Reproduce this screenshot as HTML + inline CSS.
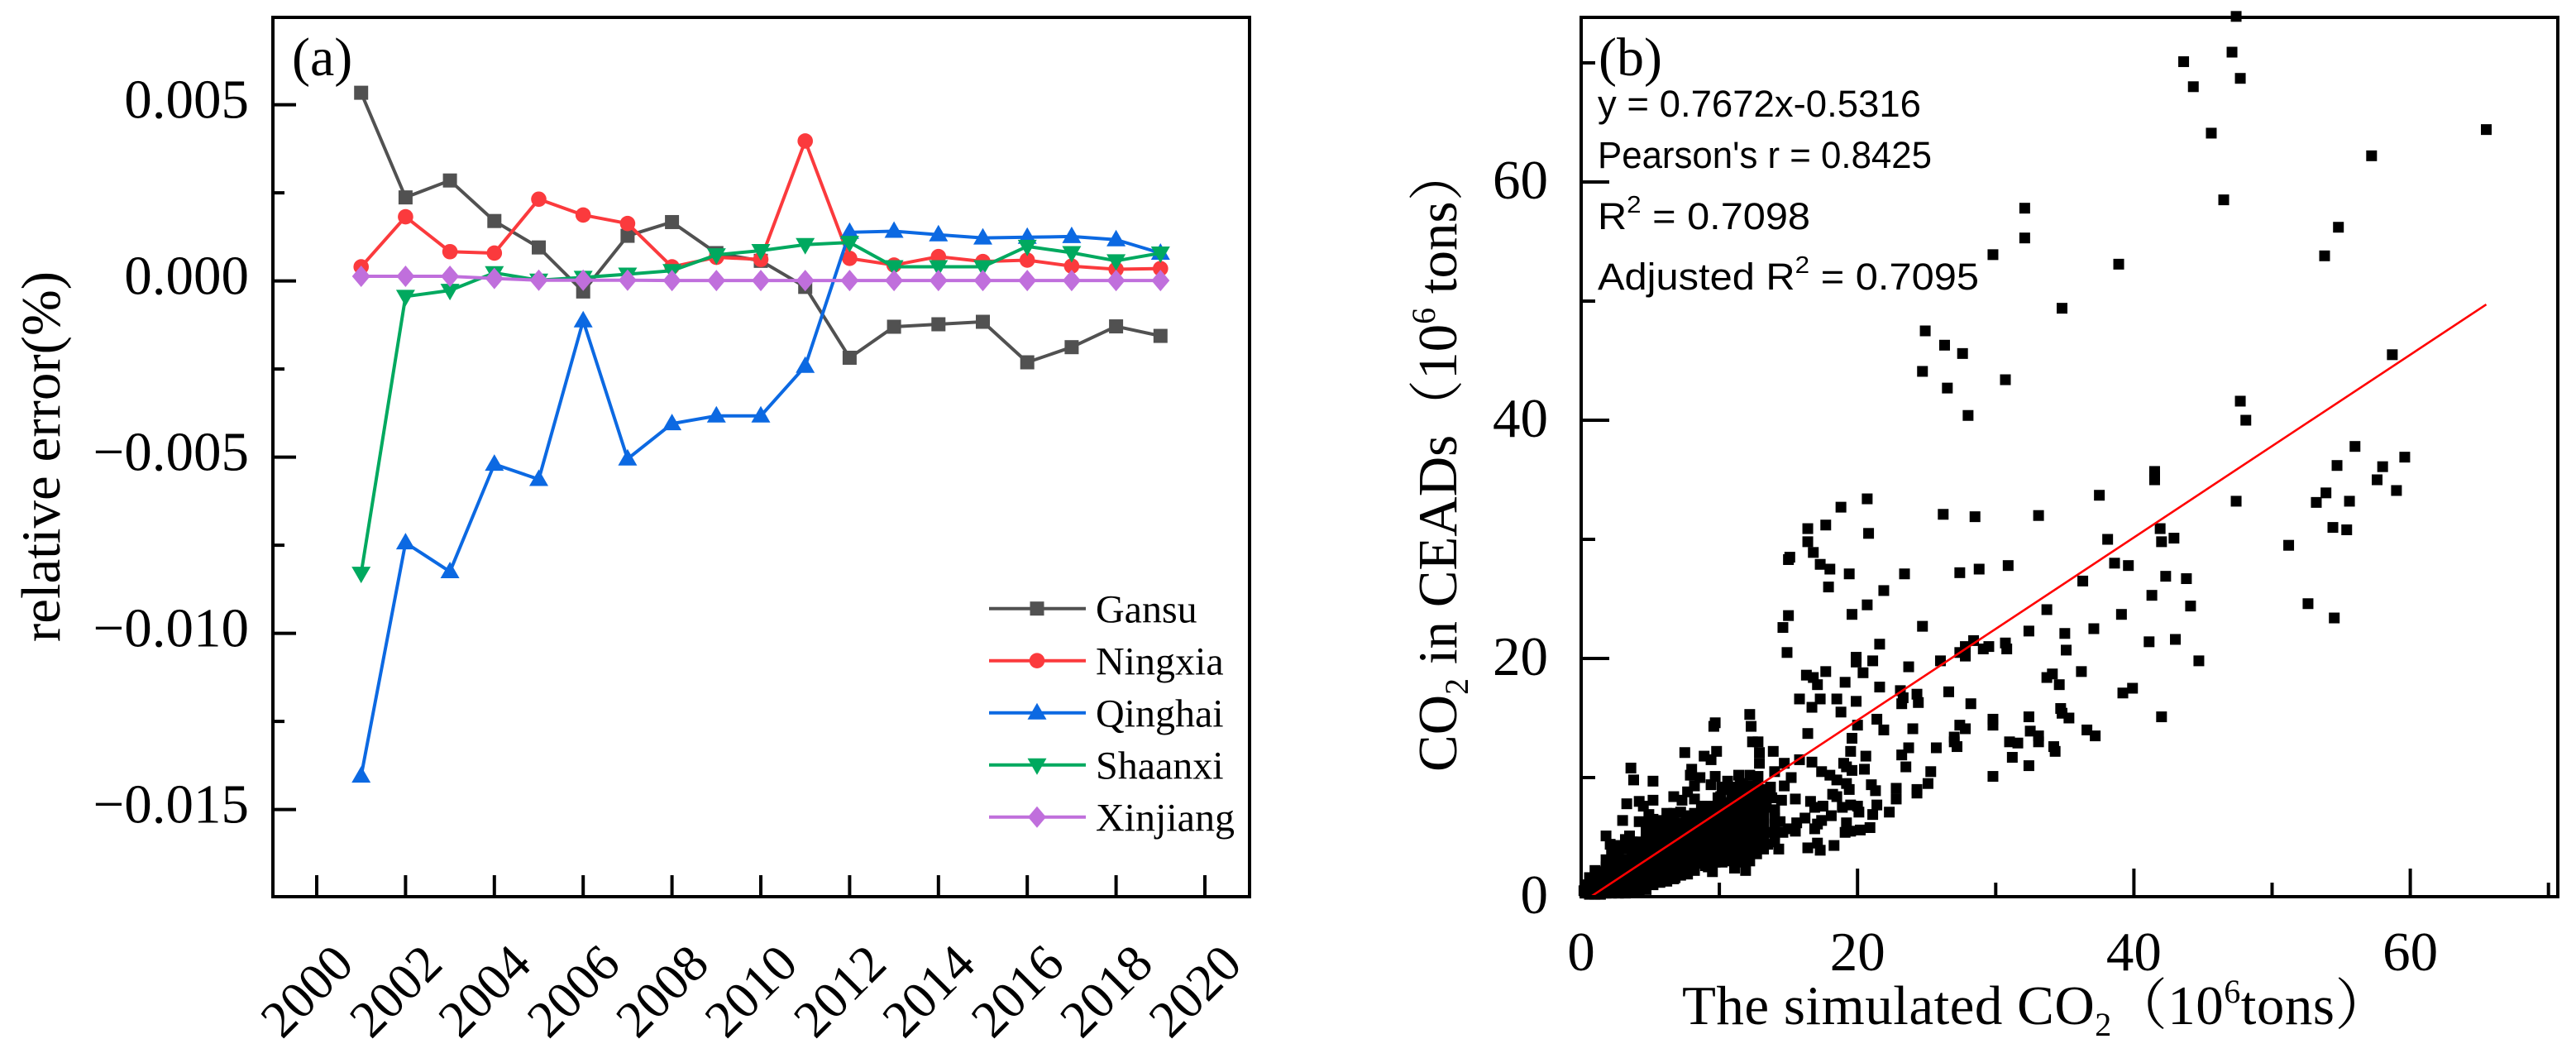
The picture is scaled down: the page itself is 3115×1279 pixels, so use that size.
<!DOCTYPE html>
<html lang="en">
<head>
<meta charset="utf-8">
<title>Relative error and CO2 scatter</title>
<style>
html,body{margin:0;padding:0;background:#fff;}
svg{display:block;font-family:"Liberation Serif","Noto Serif CJK SC",serif;fill:#000;}
.stat{font-family:"Liberation Sans",sans-serif;font-size:45px;}
</style>
</head>
<body>
<svg id="fig" xmlns="http://www.w3.org/2000/svg" width="3115" height="1279" viewBox="0 0 3115 1279">
<rect x="0" y="0" width="3115" height="1279" fill="#fff"/>
<g id="panelA"></g>
<g id="panelB"></g>

<text x="353" y="91" font-size="66">(a)</text>
<text transform="translate(72,552) rotate(-90)" text-anchor="middle" font-size="67">relative error(%)</text>

<text x="1933" y="91" font-size="66">(b)</text>
<text class="stat" x="1932" y="141" textLength="391" lengthAdjust="spacingAndGlyphs">y = 0.7672x-0.5316</text>
<text class="stat" x="1932" y="203" textLength="404" lengthAdjust="spacingAndGlyphs">Pearson's r = 0.8425</text>
<text class="stat" x="1932" y="277" textLength="257" lengthAdjust="spacingAndGlyphs">R<tspan dy="-20" font-size="29">2</tspan><tspan dy="20"> = 0.7098</tspan></text>
<text class="stat" x="1932" y="350" textLength="461" lengthAdjust="spacingAndGlyphs">Adjusted R<tspan dy="-20" font-size="29">2</tspan><tspan dy="20"> = 0.7095</tspan></text>

<text transform="translate(1761,933) rotate(-90)" font-size="67">CO<tspan dy="14" font-size="40">2</tspan><tspan dy="-14"> in CEADs</tspan><tspan>（</tspan>10<tspan dy="-26" font-size="40">6</tspan><tspan dy="26"> tons）</tspan></text>
<text x="2034" y="1238" font-size="67" letter-spacing="0.5">The simulated CO<tspan dy="14" font-size="40">2</tspan><tspan dy="-14">（10</tspan><tspan dy="-26" font-size="40">6</tspan><tspan dy="26">tons）</tspan></text>
</svg>

<script>
// ---------- Panel (a) data ----------
const years = [2001,2002,2003,2004,2005,2006,2007,2008,2009,2010,2011,2012,2013,2014,2015,2016,2017,2018,2019];
const gansu = [0.00534,0.00237,0.00285,0.0017,0.00095,-0.0003,0.00128,0.00167,0.00079,0.00057,-0.00017,-0.00218,-0.0013,-0.00123,-0.00116,-0.00231,-0.00188,-0.00129,-0.00156];
const ningxia = [0.0004,0.00182,0.00083,0.00079,0.00232,0.00187,0.00163,0.0004,0.00067,0.00061,0.00397,0.00064,0.00045,0.00069,0.00055,0.00059,0.00042,0.00033,0.00035];
const qinghai = [-0.01405,-0.00743,-0.00825,-0.0052,-0.00563,-0.00113,-0.00505,-0.00405,-0.00383,-0.00383,-0.00242,0.00138,0.00141,0.00131,0.00122,0.00124,0.00126,0.00117,0.00079];
const shaanxi = [-0.0083,-0.00044,-0.00027,0.00023,0.00002,0.0001,0.00019,0.00029,0.00074,0.00086,0.00103,0.00109,0.0004,0.0004,0.0004,0.00098,0.0008,0.00057,0.00079];
const xinjiang = [0.00013,0.00013,0.00013,0.00007,0.00002,0.00002,0.00002,0.00001,0.00001,0.00001,0.00001,0.00001,0.00001,0.00001,0.00001,0.00001,0.00001,0.00001,0.00001];
const seriesNames = ['Gansu','Ningxia','Qinghai','Shaanxi','Xinjiang'];
const seriesValues = [gansu,ningxia,qinghai,shaanxi,xinjiang];
const seriesColors = ['#515151','#fb3a3d','#0c69e2','#00a95f','#c06fdc'];
const seriesShapes = ['square','circle','up','down','diamond'];
const xTicksA = [2000,2002,2004,2006,2008,2010,2012,2014,2016,2018,2020];
const yMajorA = [0.005,0,-0.005,-0.01,-0.015];
const yMajorLabelsA = ['0.005','0.000','\u22120.005','\u22120.010','\u22120.015'];
const yMinorA = [0.0025,-0.0025,-0.0075,-0.0125];

// ---------- Panel (b) data ----------
const xMajorB = [0,20,40,60];
const xMinorB = [10,30,50,70];
const yMajorB = [0,20,40,60];
const yMinorB = [10,30,50,70];
const fitSlope = 0.7672;
const fitIntercept = -0.5316;
const fitRange = [0.7,65.5];
const sparsePoints = [
[47.4,73.9],[47.1,70.9],[43.6,70.1],[47.7,68.7],[44.3,68.0],[45.6,64.1],[57.2,62.2],[46.5,58.5],[54.8,56.2],[53.8,53.8],
[32.1,57.8],[32.1,55.3],[29.8,53.9],[38.9,53.1],[34.8,49.4],[58.7,45.5],[30.7,43.4],[47.7,41.6],[48.1,40.0],[65.5,64.4],
[56.0,37.8],[54.7,36.2],[58.0,36.1],[57.6,35.0],[59.0,34.1],[53.9,33.9],[53.2,33.1],[55.6,33.2],[47.4,33.2],[54.4,31.0],
[55.4,30.8],[51.2,29.5],[52.6,24.6],[54.5,23.4],[59.6,36.9],[41.5,35.7],[41.5,35.3],[41.5,35.0],[37.5,33.7],[33.1,32.0],
[41.9,30.9],[42.9,30.1],[42.0,29.8],[38.1,30.0],[38.6,28.0],[39.6,27.8],[30.9,27.8],[36.3,26.5],[42.3,26.9],[43.8,26.7],
[41.3,25.3],[44.1,24.4],[33.7,24.1],[39.1,23.7],[32.4,22.3],[37.1,22.5],[35.0,22.1],[43.0,21.6],[41.1,21.4],[35.1,20.7],
[44.7,19.8],[36.2,18.9],[34.1,18.7],[33.7,18.4],[34.6,17.8],[39.9,17.5],[39.2,17.1],[30.7,21.3],[30.8,20.8],[29.5,21.0],
[29.1,20.8],[42.0,15.1],[29.8,14.4],[29.8,14.9],[29.8,10.1],[32.4,15.1],[32.5,13.9],[33.1,13.5],[33.1,13.0],[31.0,13.0],
[31.6,12.9],[34.2,12.6],[34.3,12.2],[31.2,11.7],[32.4,11.0],[34.7,15.8],[34.8,15.4],[35.3,15.0],[36.6,14.0],[37.2,13.5],
[24.9,47.5],[26.3,46.3],[27.6,45.6],[24.7,44.1],[26.5,42.7],[28.0,40.4],[20.7,33.4],[18.8,32.7],[17.7,31.2],[16.4,30.9],
[20.8,30.5],[16.4,29.8],[16.8,28.9],[15.1,28.5],[15.0,28.3],[17.3,27.9],[18.0,27.5],[19.4,27.1],[23.4,27.1],[27.4,27.2],
[28.8,27.5],[26.2,32.1],[28.5,31.9],[17.9,26.0],[21.9,25.7],[20.7,24.5],[19.6,23.7],[15.0,23.6],[14.6,22.6],[14.9,20.5],
[21.6,21.2],[24.7,22.7],[19.9,20.1],[21.1,19.8],[26.0,19.8],[28.4,21.5],[27.8,21.0],[27.4,20.5],[27.8,20.2]
];
const midPoints = [
[19.9,20.0],[19.9,19.7],[20.4,18.8],[23.7,19.3],[17.7,18.9],[16.3,18.6],[16.8,18.4],[17.1,17.8],[19.1,18.0],[21.6,17.6],
[23.1,17.3],[23.3,16.7],[23.2,16.2],[24.3,17.0],[24.4,16.3],[26.6,17.2],[28.2,16.2],[15.8,16.6],[17.3,16.6],[18.5,16.6],
[19.9,16.4],[16.7,15.9],[18.8,15.5],[12.2,15.3],[12.3,14.3],[9.7,14.6],[9.6,14.3],[21.4,14.9],[20.0,14.4],[21.9,14.0],
[24.0,14.1],[27.4,14.4],[27.8,14.1],[27.0,13.4],[27.0,13.0],[27.2,12.6],[16.4,13.7],[19.6,13.3],[12.4,13.0],[12.8,13.0],
[23.7,12.5],[25.7,12.5],[19.5,12.2],[23.2,11.9],[20.6,11.8],[12.9,12.1],[12.9,11.2],[13.9,12.2],[7.5,12.1],[9.8,12.2],
[8.9,11.8],[9.4,11.5],[15.8,11.5],[16.7,11.3],[14.7,11.2],[23.5,10.9],[3.6,10.8],[3.8,9.8],[5.2,9.7],[8.0,10.7],
[7.9,10.2],[8.6,10.0],[9.7,10.1],[10.6,9.7],[11.4,10.2],[12.2,10.2],[12.8,10.1],[14.0,10.5],[15.2,10.0],[17.4,10.5],
[18.0,10.2],[19.0,11.2],[19.2,10.9],[19.6,10.6],[20.5,10.7],[18.5,9.8],[19.2,9.5],[25.3,10.5],[25.1,9.5],[21.0,9.4],
[21.3,8.9],[22.8,9.1],[22.8,8.2],[24.3,9.0],[24.3,8.7],[19.4,9.0],[18.2,8.6],[18.5,8.4],[14.7,9.3],[13.7,9.2],
[11.5,9.5],[9.4,9.4],[10.2,9.2],[7.7,8.8],[8.2,9.3],[6.7,8.4],[7.3,8.1],[8.2,8.2],[5.2,8.1],[4.2,8.0],
[3.3,7.8],[4.5,7.6],[3.0,6.4],[4.2,6.3],[4.9,6.9],[5.5,6.4],[5.7,5.9],[6.5,6.8],[7.2,7.1],[7.6,6.8],
[6.6,6.1],[7.3,6.2],[8.7,7.0],[9.1,7.6],[10.1,8.4],[10.9,8.5],[12.0,8.1],[12.8,7.7],[13.4,7.5],[13.8,8.3],
[14.5,8.1],[15.5,8.2],[16.6,8.0],[16.9,7.5],[17.5,7.6],[18.9,7.5],[19.5,7.7],[20.0,7.6],[20.1,7.1],[21.4,7.7],
[21.1,6.9],[22.3,7.1],[18.1,6.8],[17.4,6.4],[16.2,6.6],[15.6,6.2],[14.4,6.3],[17.1,6.1],[16.9,5.7],[19.2,6.2],
[20.9,5.8],[20.2,5.6],[19.5,5.5],[19.1,5.4],[14.6,5.4],[15.5,5.5],[15.0,5.7],[13.5,5.4],[13.5,4.4],[14.3,4.0],
[16.4,4.1],[17.1,4.5],[17.3,3.9],[18.3,4.3],[12.4,4.0],[12.0,3.1],[11.9,2.2],[11.1,2.4],[9.5,2.1],[9.0,2.6],[8.2,2.2],[6.8,1.6],
[1.8,5.1],[2.1,4.4],[3.5,5.1],[3.2,4.8],[4.0,4.4],[1.8,2.5],[1.3,2.0],[0.7,1.6],[0.4,1.0],[0.2,0.5]
];
const densePoints = [
[0.3,0.3],[0.3,0.9],[0.6,0.2],[0.6,0.9],[0.6,1.6],[1,0.2],[1,0.8],[1,1.5],[1,2.2],[1.4,0.2],[1.4,0.8],[1.4,1.5],[1.4,2.1],
[1.8,0.3],[1.8,1],[1.8,1.7],[1.8,2.4],[1.8,3.1],[2.2,0.3],[2.2,1],[2.2,1.7],[2.2,2.4],[2.2,3.1],[2.2,3.8],
[2.7,0.3],[2.7,1],[2.7,1.7],[2.7,2.4],[2.7,3.1],[2.7,3.8],[2.7,4.3],[3.2,0.3],[3.2,1],[3.2,1.7],[3.2,2.4],[3.2,3.1],[3.2,4],
[3.7,0.4],[3.7,1.1],[3.7,1.8],[3.7,2.5],[3.7,3.2],[3.7,3.9],[3.7,4.6],[4.2,0.4],[4.2,1.1],[4.2,1.8],[4.2,2.5],[4.2,3.2],[4.2,3.9],[4.2,4.6],
[4.7,0.6],[4.7,1.3],[4.7,2],[4.7,2.7],[4.7,3.4],[4.7,4.1],[4.7,4.8],[4.7,5.5],[4.7,6.2],[5.2,1],[5.2,1.7],[5.2,2.4],[5.2,3.1],[5.2,3.8],[5.2,4.5],[5.2,5.2],[5.2,5.9],[5.2,6.5],
[5.7,1.2],[5.7,1.9],[5.7,2.6],[5.7,3.3],[5.7,4],[5.7,4.7],[5.7,5.4],[5.7,6.2],[6.2,1.3],[6.2,2],[6.2,2.7],[6.2,3.4],[6.2,4.1],[6.2,4.8],[6.2,5.5],[6.2,6.3],[6.2,7.0],
[6.7,1.5],[6.7,2.2],[6.7,2.9],[6.7,3.6],[6.7,4.3],[6.7,5],[6.7,5.7],[6.7,6.4],[6.7,7],[7.2,1.8],[7.2,2.5],[7.2,3.2],[7.2,3.9],[7.2,4.6],[7.2,5.3],[7.2,6],
[7.7,1.9],[7.7,2.6],[7.7,3.3],[7.7,4],[7.7,4.7],[7.7,5.4],[7.7,6.1],[8.2,2.3],[8.2,3],[8.2,3.7],[8.2,4.4],[8.2,5.1],[8.2,5.8],[8.2,6.5],[8.2,7.0],
[8.7,2.8],[8.7,3.5],[8.7,4.2],[8.7,4.9],[8.7,5.6],[8.7,6.3],[8.7,7.6],[9.2,2.5],[9.2,3.2],[9.2,3.9],[9.2,4.6],[9.2,5.3],[9.2,6],[9.2,6.7],[9.2,7.4],
[9.7,2.9],[9.7,3.6],[9.7,4.3],[9.7,5],[9.7,5.7],[9.7,6.4],[9.7,7.1],[9.7,7.6],[9.9,8.3],[10.2,2.9],[10.2,3.6],[10.2,4.3],[10.2,5],[10.2,5.7],[10.2,6.4],[10.2,7.1],[10.2,7.8],
[10.7,3],[10.7,3.7],[10.7,4.4],[10.7,5.1],[10.7,5.8],[10.7,6.5],[10.7,7.2],[10.7,7.9],[10.7,9.0],[11.2,2.9],[11.2,3.6],[11.2,4.3],[11.2,5],[11.2,5.7],[11.2,6.4],[11.2,7.1],[11.2,7.8],[11.2,8.5],[11.2,9.2],
[11.7,3],[11.7,3.7],[11.7,4.4],[11.7,5.1],[11.7,5.8],[11.7,6.5],[11.7,7.2],[11.7,7.9],[11.7,8.6],[11.7,9.3],[12.2,3],[12.2,3.7],[12.2,4.4],[12.2,5.1],[12.2,5.8],[12.2,6.5],[12.2,7.2],[12.2,7.9],[12.2,8.6],[12.2,9.3],
[12.7,3.6],[12.7,4.3],[12.7,5],[12.7,5.7],[12.7,6.4],[12.7,7.1],[12.7,7.8],[12.7,8.5],[12.7,9.2],[13.2,4],[13.2,4.7],[13.2,5.4],[13.2,6.1],[13.2,6.8],[13.2,7.5],[13.2,8.2],[13.2,9],
[14,4.6],[14,5.2],[14,5.9],[14,6.6],[14,7.3]
];

// ---------- Axis functions ----------
const xA = v => 383 + (v - 2000) * 53.7;
const yA = v => 339.6 - v * 42600;
const xB = v => 1912 + v * 16.71;
const yB = v => 1084 - v * 14.4;

const SVGNS = 'http://www.w3.org/2000/svg';
function make(parent, tag, attrs) {
  const el = document.createElementNS(SVGNS, tag);
  for (const k in attrs) el.setAttribute(k, attrs[k]);
  parent.appendChild(el);
  return el;
}
function tickLine(parent, x1, y1, x2, y2, name) {
  const el = make(parent, 'line', {x1, y1, x2, y2, stroke: '#000', 'stroke-width': 4});
  
  
  return el;
}
function marker(parent, shape, x, y, color, name) {
  let el;
  if (shape === 'square') el = make(parent, 'rect', {x: x - 8.5, y: y - 8.5, width: 17, height: 17, fill: color});
  else if (shape === 'circle') el = make(parent, 'circle', {cx: x, cy: y, r: 9.3, fill: color});
  else if (shape === 'up') el = make(parent, 'polygon', {points: `${x},${y-12} ${x-11.5},${y+8} ${x+11.5},${y+8}`, fill: color});
  else if (shape === 'down') el = make(parent, 'polygon', {points: `${x},${y+12} ${x-11.5},${y-8} ${x+11.5},${y-8}`, fill: color});
  else el = make(parent, 'polygon', {points: `${x},${y-13} ${x+11},${y} ${x},${y+13} ${x-11},${y}`, fill: color});
  
  
  return el;
}
function label(parent, x, y, size, anchor, str, name, transform) {
  const el = make(parent, 'text', {x, y, 'font-size': size, 'text-anchor': anchor});
  if (transform) el.setAttribute('transform', transform);
  el.textContent = str;
  
  
  return el;
}

// ---------- Panel (a) ----------
const pa = document.getElementById('panelA');
seriesValues.forEach((vals, s) => {
  const g = make(pa, 'g', {});
  
  
  const line = make(g, 'polyline', {
    points: vals.map((v, i) => xA(years[i]) + ',' + yA(v)).join(' '),
    fill: 'none', stroke: seriesColors[s], 'stroke-width': 4, 'stroke-linejoin': 'round'
  });
  
  
  vals.forEach((v, i) => marker(g, seriesShapes[s], xA(years[i]), yA(v), seriesColors[s], seriesNames[s].toLowerCase() + '-point-' + years[i]));
});
const frameA = make(pa, 'rect', {x: 330, y: 21, width: 1181, height: 1063, fill: 'none', stroke: '#000', 'stroke-width': 4});


xTicksA.forEach(t => {
  tickLine(pa, xA(t), 1084, xA(t), 1058, 'x-tick-' + t);
  label(pa, 0, 0, 63, 'middle', String(t), 'x-tick-label-' + t, `translate(${xA(t) - 12},1198) rotate(-45) translate(0,21)`);
});
yMajorA.forEach((t, i) => {
  tickLine(pa, 330, yA(t), 358, yA(t), 'y-major-tick-' + yMajorLabelsA[i]);
  label(pa, 301, yA(t) + 16, 67, 'end', yMajorLabelsA[i], 'y-tick-label-' + yMajorLabelsA[i]);
});
yMinorA.forEach(t => tickLine(pa, 330, yA(t), 344, yA(t), 'y-minor-tick'));

// legend
const legendG = make(pa, 'g', {});


seriesNames.forEach((n, s) => {
  const ly = 735.7 + s * 63;
  const ln = make(legendG, 'line', {x1: 1196, y1: ly, x2: 1313, y2: ly, stroke: seriesColors[s], 'stroke-width': 4});
  
  
  marker(legendG, seriesShapes[s], 1254, ly, seriesColors[s], 'legend-marker-' + n.toLowerCase());
  label(legendG, 1325, ly + 17, 48, 'start', n, 'legend-label-' + n.toLowerCase());
});

// ---------- Panel (b) ----------
const pb = document.getElementById('panelB');
const scatterG = make(pb, 'g', {});


[densePoints, midPoints, sparsePoints].forEach(list => list.forEach(p => {
  const m = make(scatterG, 'rect', {x: xB(p[0]) - 6.5, y: yB(p[1]) - 6.5, width: 13, height: 13, fill: '#000'});
  
  
}));
const fit = make(pb, 'line', {
  x1: xB(fitRange[0]), y1: yB(fitSlope * fitRange[0] + fitIntercept),
  x2: xB(fitRange[1]), y2: yB(fitSlope * fitRange[1] + fitIntercept),
  stroke: '#f00', 'stroke-width': 2.6
});


const frameB = make(pb, 'rect', {x: 1912, y: 21, width: 1181, height: 1063, fill: 'none', stroke: '#000', 'stroke-width': 4});


xMajorB.forEach(t => {
  tickLine(pb, xB(t), 1084, xB(t), 1050, 'x-major-tick-' + t);
  label(pb, xB(t), 1173, 67, 'middle', String(t), 'x-tick-label-' + t);
});
xMinorB.forEach(t => tickLine(pb, xB(t), 1084, xB(t), 1067, 'x-minor-tick-' + t));
yMajorB.forEach(t => {
  tickLine(pb, 1912, yB(t), 1946, yB(t), 'y-major-tick-' + t);
  label(pb, 1872, yB(t) + 20, 67, 'end', String(t), 'y-tick-label-' + t);
});
yMinorB.forEach(t => tickLine(pb, 1912, yB(t), 1929, yB(t), 'y-minor-tick-' + t));
</script>
</body>
</html>
